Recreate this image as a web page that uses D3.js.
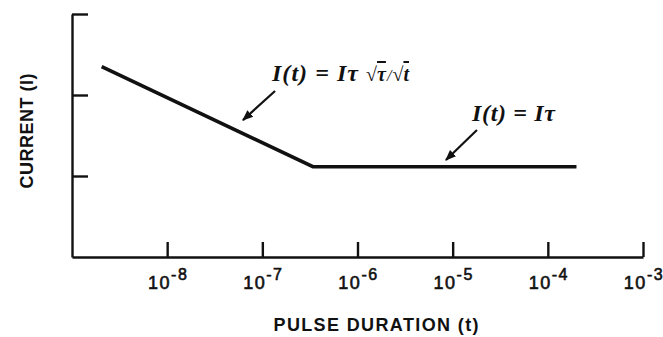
<!DOCTYPE html>
<html>
<head>
<meta charset="utf-8">
<script src="https://cdn.jsdelivr.net/npm/d3@7"></script>
<style>
    body { margin: 0; background: #fff; }
    svg { display: block; }
    .axis path, .axis line { stroke: #111; stroke-width: 2.4; }
</style>
</head>
<body>
<div id="chart"></div>
<script>

// data (y axis has no labels, so unitless)
let pulseDurations = [2.05e-9, 3.4e-7, 2.0e-4];
let currents = [2.35, 1.115, 1.115];

let xTickValues = [1e-8, 1e-7, 1e-6, 1e-5, 1e-4, 1e-3];
let xTickExponents = ["-8", "-7", "-6", "-5", "-4", "-3"];
let yTickValues = [1, 2, 3];

let xDomain = [1e-9, 1e-3];
let yDomain = [0, 3];

let margin = { top: 14, right: 20, bottom: 80, left: 72 };
let width = 643 - margin.left,
    height = 257 - margin.top;

let svg = d3.select("#chart").append("svg")
    .attr("width", 663)
    .attr("height", 337)
    .append("g")
    .attr("transform", "translate(" + margin.left + "," + margin.top + ")");

// scales
let x = d3.scaleLog().domain(xDomain).range([0, width]);
let y = d3.scaleLinear().domain(yDomain).range([height, 0]);

// axes - ticks point inward, no default labels
let xAxis = d3.axisBottom(x)
    .tickValues(xTickValues)
    .tickSizeInner(-15)
    .tickSizeOuter(0)
    .tickFormat("");

let yAxis = d3.axisLeft(y)
    .tickValues(yTickValues)
    .tickSizeInner(-16)
    .tickSizeOuter(0)
    .tickFormat("");

svg.append("g")
    .attr("class", "x-axis axis")
    .attr("transform", "translate(0," + height + ")")
    .call(xAxis);

svg.append("g")
    .attr("class", "y-axis axis")
    .call(yAxis);

// power-of-ten tick labels
let tickLabels = svg.selectAll(".tick-label")
    .data(xTickValues)
    .enter()
    .append("text")
    .attr("class", "tick-label")
    .attr("x", d => x(d) + 1)
    .attr("y", height + 32)
    .attr("text-anchor", "middle")
    .style("font-family", "'Liberation Sans', Arial, sans-serif")
    .style("font-size", "18px")
    .style("letter-spacing", "1.5px")
    .style("fill", "#111")
    .style("stroke", "#111")
    .style("stroke-width", 0.6);

tickLabels.append("tspan").text("10");
tickLabels.append("tspan")
    .attr("dy", -9)
    .style("font-size", "16px")
    .text((d, i) => xTickExponents[i]);

// the curve
let points = pulseDurations.map((t, i) => [t, currents[i]]);

svg.append("path")
    .datum(points)
    .attr("fill", "none")
    .attr("stroke", "#111")
    .attr("stroke-width", 3.6)
    .attr("d", d3.line().x(d => x(d[0])).y(d => y(d[1])));

// axis titles
svg.append("text")
    .attr("transform", "translate(" + (-39) + "," + 117 + ") rotate(-90)")
    .attr("text-anchor", "middle")
    .attr("textLength", 115)
    .style("font-family", "'Liberation Sans', Arial, sans-serif")
    .style("font-weight", "bold")
    .style("font-size", "18px")
    .style("fill", "#111")
    .text("CURRENT (I)");

svg.append("text")
    .attr("x", 376 - margin.left)
    .attr("y", 331 - margin.top)
    .attr("text-anchor", "middle")
    .attr("textLength", 205)
    .style("font-family", "'Liberation Sans', Arial, sans-serif")
    .style("font-weight", "bold")
    .style("font-size", "18px")
    .style("fill", "#111")
    .text("PULSE DURATION (t)");

// arrowhead
svg.append("defs").append("marker")
    .attr("id", "arrow")
    .attr("viewBox", "0 0 10 10")
    .attr("refX", 9)
    .attr("refY", 5)
    .attr("markerWidth", 5)
    .attr("markerHeight", 5)
    .attr("orient", "auto")
    .append("path")
    .attr("d", "M0,1 L10,5 L0,9 Z")
    .attr("fill", "#111");

// annotations: [pulse duration, current] at the arrow tail and tip
let annotations = [
    { from: [1.36e-7, 2.05], to: [6.26e-8, 1.69] },
    { from: [1.80e-5, 1.568], to: [8.5e-6, 1.198] }
];

svg.selectAll(".note-arrow")
    .data(annotations)
    .enter()
    .append("line")
    .attr("class", "note-arrow")
    .attr("x1", d => x(d.from[0]))
    .attr("y1", d => y(d.from[1]))
    .attr("x2", d => x(d.to[0]))
    .attr("y2", d => y(d.to[1]))
    .attr("stroke", "#111")
    .attr("stroke-width", 2.2)
    .attr("marker-end", "url(#arrow)");

let mathFont = "'Liberation Serif', 'Times New Roman', serif";

// I(t) = I tau sqrt(tau)/sqrt(t)
let f1 = svg.append("text")
    .attr("x", 272 - margin.left)
    .attr("y", 81 - margin.top)
    .attr("textLength", 137)
    .style("font-family", mathFont)
    .style("font-style", "italic")
    .style("font-weight", "bold")
    .style("font-size", "24px")
    .style("fill", "#111");
f1.append("tspan").text("I(t) = Iτ ");
f1.append("tspan").style("font-style", "normal").style("font-size", "20px").text("√");
f1.append("tspan").attr("dx", -1).style("text-decoration", "overline").style("font-size", "20px").text("τ");
f1.append("tspan").style("font-weight", "normal").style("font-size", "16px").text("/");
f1.append("tspan").style("font-style", "normal").style("font-size", "20px").text("√");
f1.append("tspan").attr("dx", -1).style("text-decoration", "overline").style("font-size", "20px").text("t");

// I(t) = I tau
svg.append("text")
    .attr("x", 472 - margin.left)
    .attr("y", 121 - margin.top)
    .attr("textLength", 83)
    .style("font-family", mathFont)
    .style("font-style", "italic")
    .style("font-weight", "bold")
    .style("font-size", "24px")
    .style("fill", "#111")
    .text("I(t) = Iτ");

</script>
</body>
</html>
